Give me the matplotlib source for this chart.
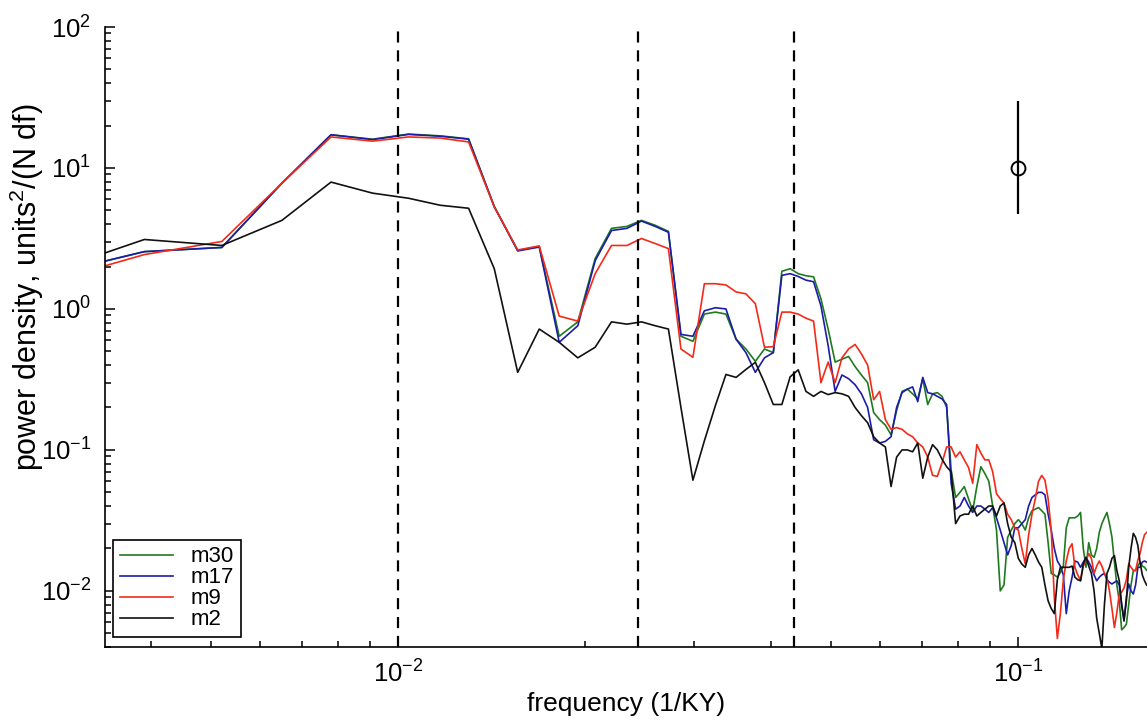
import numpy as np
import matplotlib
matplotlib.use("Agg")
import matplotlib.pyplot as plt
from matplotlib.ticker import LogLocator, NullFormatter

plt.rcParams['font.family'] = ['Liberation Sans', 'DejaVu Sans']
plt.rcParams['mathtext.fontset'] = 'custom'
plt.rcParams['mathtext.rm'] = 'Liberation Sans'
plt.rcParams['mathtext.it'] = 'Liberation Sans:italic'
plt.rcParams['mathtext.bf'] = 'Liberation Sans:bold'

# spectral estimates on harmonics of the base frequency (1/KY)
DF = 0.0013
harmonic = np.arange(2, 125)

m30 = [1.66, 2.55, 2.73, 7.8, 17.2, 16.0, 17.4, 16.9, 16.1, 5.35,
       2.6, 2.77, 0.64, 0.81, 2.28, 3.73, 3.85, 4.25, 3.92, 3.55,
       0.64, 0.59, 0.92, 0.95, 0.92, 0.61, 0.52, 0.425, 0.52, 0.49,
       1.85, 1.93, 1.78, 1.72, 1.69, 1.18, 0.72, 0.42, 0.44, 0.46,
       0.39, 0.34, 0.30, 0.184, 0.164, 0.15, 0.128, 0.19, 0.26, 0.27,
       0.25, 0.23, 0.32, 0.21, 0.25, 0.255, 0.24, 0.2, 0.072, 0.046,
       0.05, 0.055, 0.045, 0.037, 0.055, 0.076, 0.068, 0.06, 0.04, 0.027,
       0.01, 0.011, 0.024, 0.027, 0.03, 0.032, 0.03, 0.027, 0.033, 0.037,
       0.038, 0.039, 0.037, 0.035, 0.022, 0.0133, 0.013, 0.0125, 0.0135, 0.015,
       0.028, 0.033, 0.033, 0.033, 0.034, 0.036, 0.02, 0.0147, 0.022, 0.018,
       0.0173, 0.02, 0.026, 0.03, 0.033, 0.036, 0.03, 0.024, 0.016, 0.011,
       0.0085, 0.0053, 0.0055, 0.0058, 0.008, 0.011, 0.0139, 0.014, 0.015, 0.016,
       0.015, 0.0147, 0.014]

m17 = [1.66, 2.55, 2.73, 7.8, 17.2, 15.9, 17.3, 16.8, 16.0, 5.3,
       2.58, 2.75, 0.58, 0.76, 2.2, 3.6, 3.73, 4.2, 3.85, 3.5,
       0.66, 0.64, 0.97, 1.02, 1.0, 0.61, 0.49, 0.355, 0.45, 0.49,
       1.73, 1.78, 1.7, 1.6, 1.56, 1.05, 0.55, 0.26, 0.34, 0.32,
       0.29, 0.25, 0.2, 0.118, 0.112, 0.115, 0.124, 0.2, 0.255, 0.27,
       0.28, 0.22, 0.327, 0.255, 0.25, 0.24, 0.23, 0.21, 0.058, 0.038,
       0.04, 0.046, 0.04, 0.036, 0.04, 0.04, 0.038, 0.036, 0.039, 0.033,
       0.027, 0.022, 0.018, 0.021, 0.028, 0.028, 0.03, 0.032, 0.04, 0.046,
       0.048, 0.05, 0.05, 0.048, 0.035, 0.027, 0.02, 0.0163, 0.015, 0.013,
       0.0069, 0.01, 0.0125, 0.0163, 0.016, 0.0147, 0.016, 0.0173, 0.016, 0.0147,
       0.013, 0.0118, 0.0125, 0.013, 0.0133, 0.012, 0.0115, 0.0112, 0.0115, 0.0118,
       0.011, 0.008, 0.0061, 0.009, 0.0112, 0.01, 0.0095, 0.011, 0.0147, 0.0147,
       0.016, 0.0163, 0.016]

m9 = [1.46, 2.43, 3.01, 7.8, 16.6, 15.5, 16.6, 16.3, 15.3, 5.3,
      2.62, 2.8, 0.89, 0.82, 1.78, 2.82, 2.82, 3.16, 2.91, 2.68,
      0.52, 0.454, 1.51, 1.51, 1.48, 1.32, 1.28, 1.09, 0.535, 0.54,
      0.95, 0.95, 0.92, 0.86, 0.82, 0.30, 0.42, 0.30, 0.45, 0.52,
      0.56, 0.48, 0.40, 0.227, 0.26, 0.164, 0.14, 0.144, 0.14, 0.13,
      0.124, 0.112, 0.105, 0.089, 0.066, 0.065, 0.081, 0.105, 0.105, 0.089,
      0.097, 0.085, 0.075, 0.058, 0.109, 0.095, 0.085, 0.085, 0.07, 0.049,
      0.045, 0.042, 0.035, 0.032, 0.028, 0.027, 0.02, 0.0156, 0.025, 0.035,
      0.045, 0.06, 0.066, 0.061, 0.045, 0.027, 0.009, 0.0046, 0.0069, 0.012,
      0.0163, 0.02, 0.0216, 0.0147, 0.013, 0.0118, 0.015, 0.0163, 0.0184, 0.017,
      0.0133, 0.015, 0.0163, 0.015, 0.0133, 0.0125, 0.01, 0.0075, 0.0055, 0.007,
      0.0095, 0.0098, 0.0105, 0.012, 0.0156, 0.0147, 0.014, 0.0139, 0.0165, 0.0184,
      0.022, 0.025, 0.026]

m2 = [1.69, 3.11, 2.82, 4.25, 7.94, 6.63, 6.1, 5.44, 5.18, 1.93,
      0.355, 0.72, 0.58, 0.45, 0.535, 0.81, 0.78, 0.81, 0.76, 0.72,
      0.2, 0.061, 0.116, 0.206, 0.343, 0.327, 0.372, 0.418, 0.30, 0.21,
      0.21, 0.33, 0.37, 0.26, 0.24, 0.26, 0.247, 0.255, 0.25, 0.24,
      0.2, 0.175, 0.156, 0.124, 0.112, 0.105, 0.055, 0.089, 0.1, 0.1,
      0.097, 0.112, 0.063, 0.089, 0.109, 0.1, 0.086, 0.076, 0.07, 0.03,
      0.034, 0.035, 0.035, 0.04, 0.034, 0.036, 0.038, 0.04, 0.04, 0.034,
      0.04, 0.042, 0.03, 0.024, 0.022, 0.017, 0.0155, 0.0147, 0.018, 0.02,
      0.018, 0.016, 0.0147, 0.011, 0.0085, 0.0075, 0.0069, 0.012, 0.0147, 0.0147,
      0.0147, 0.0147, 0.015, 0.0125, 0.012, 0.0118, 0.0155, 0.0173, 0.015, 0.0133,
      0.01, 0.0064, 0.005, 0.0039, 0.008, 0.0133, 0.0147, 0.017, 0.0178, 0.014,
      0.0118, 0.008, 0.0062, 0.0085, 0.0147, 0.02, 0.0256, 0.024, 0.021, 0.016,
      0.013, 0.0118, 0.011]

# orbital periods (KY) marked with dashed lines
periods = [100, 41, 23]

# confidence bar
ci_freq = 0.1
ci_center = 10.0
ci_low = 4.7
ci_high = 30.0

series = [('m30', m30, '#1f7a1f'),
          ('m17', m17, '#1c1caa'),
          ('m9', m9, '#f42a18'),
          ('m2', m2, '#111111')]

freq = harmonic * DF

fig = plt.figure(figsize=(11.47, 7.24), dpi=100)
ax = fig.add_axes([105 / 1147, 1 - 647 / 724, 1 - 105 / 1147, 620 / 724])

for name, vals, col in series:
    ax.plot(freq, vals, color=col, lw=1.2, label=name)

for p in periods:
    ax.axvline(1.0 / p, color='black', lw=1.6, linestyle=(0, (5, 3.5)))

ax.errorbar([ci_freq], [ci_center],
            yerr=[[ci_center - ci_low], [ci_high - ci_center]],
            fmt='o', mfc='none', mec='black', ecolor='black', ms=10, mew=1.4,
            elinewidth=1.6, capsize=0)

ax.set_xscale('log')
ax.set_yscale('log')
ax.set_xlim(0.00337, 0.1614)
ax.set_ylim(0.004, 100)

ax.spines['top'].set_visible(False)
ax.spines['right'].set_visible(False)
for s in ['left', 'bottom']:
    ax.spines[s].set_linewidth(1.2)

ax.xaxis.set_major_locator(LogLocator(base=10, numticks=10))
ax.xaxis.set_minor_locator(LogLocator(base=10, subs=np.arange(2, 10), numticks=20))
ax.xaxis.set_minor_formatter(NullFormatter())
ax.yaxis.set_minor_locator(LogLocator(base=10, subs=np.arange(2, 10), numticks=20))
ax.yaxis.set_minor_formatter(NullFormatter())
ax.tick_params(which='both', direction='in', top=False, right=False, width=1.1,
               labelsize=18.5)
ax.tick_params(which='major', length=7.5)
ax.tick_params(which='minor', length=4)
ax.tick_params(axis='y', which='major', pad=10)
ax.tick_params(axis='x', which='major', pad=10)

ax.set_xlabel('frequency (1/KY)', fontsize=19)
ax.set_ylabel('power density, units$^2$/(N df)', fontsize=22)
ax.xaxis.set_label_coords(0.5, -0.072)
ax.yaxis.set_label_coords(-0.057, 0.58)

leg = ax.legend(loc='lower left', bbox_to_anchor=(0.0077, 0.016), borderaxespad=0,
                fontsize=16, frameon=True, fancybox=False, framealpha=1,
                handlelength=2.4, handletextpad=0.8, labelspacing=0.0,
                borderpad=0.3)
leg.get_frame().set_edgecolor('black')
leg.get_frame().set_linewidth(1.2)

fig.savefig('out.png', dpi=100)
